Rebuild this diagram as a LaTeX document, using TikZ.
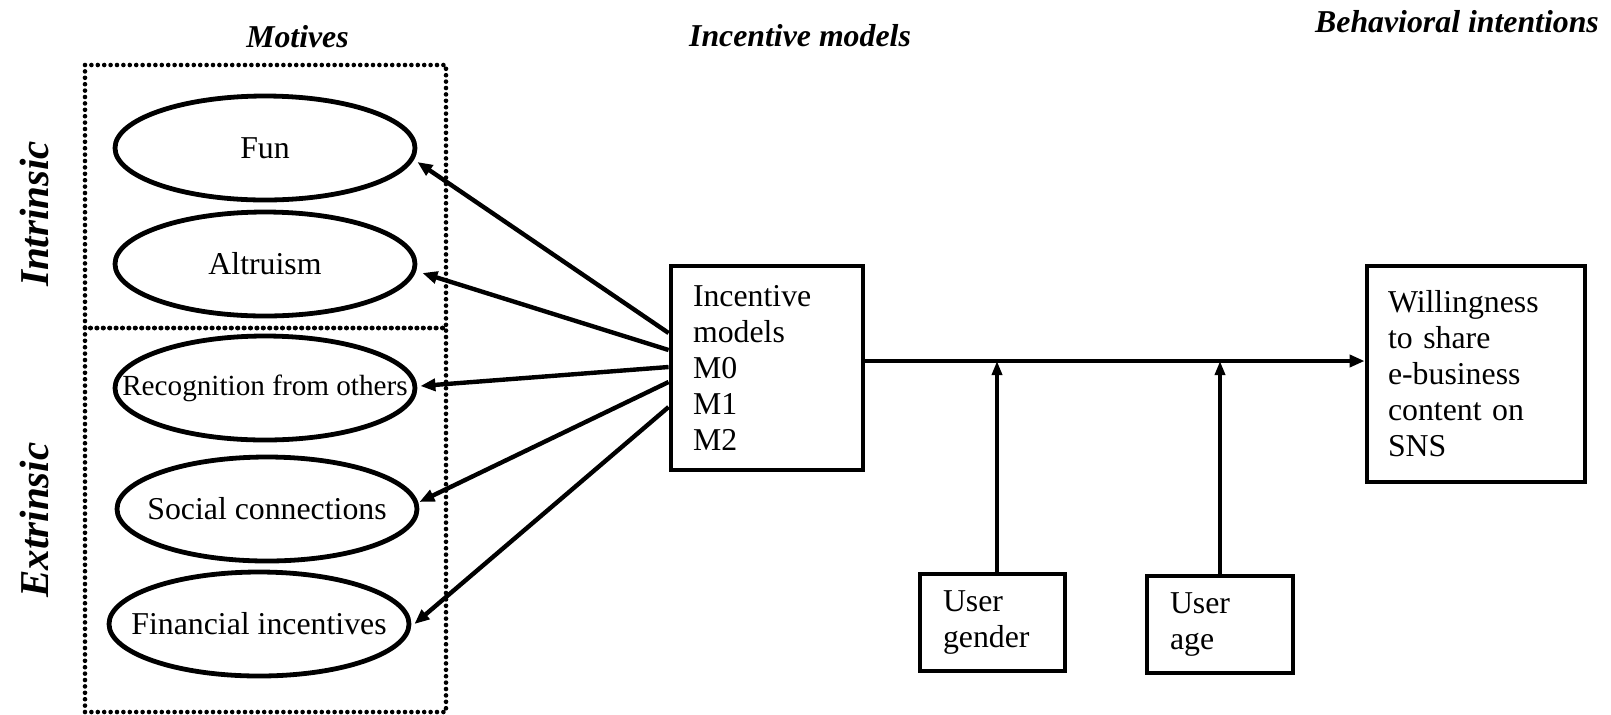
\documentclass[tikz,border=0pt]{standalone}
\usepackage{fontspec}
\setmainfont{Liberation Serif}
\usepackage{xcolor}
\usepackage{tikz}
\usetikzlibrary{shapes.geometric, arrows.meta}

\newcommand{\boxfont}{\fontsize{15.9}{18}\selectfont}
\newcommand{\headfont}{\fontsize{15.9}{18}\selectfont\bfseries\itshape}
\newcommand{\sidefont}{\fontsize{20.5}{24}\selectfont\bfseries\itshape}

\tikzset{
  motive/.style={draw, ellipse, line width=2.4pt, minimum width=150pt, minimum height=52pt, inner xsep=-20pt, inner ysep=0pt, font=\boxfont},
  varbox/.style={draw, rectangle, line width=2.4pt, align=left, inner ysep=0pt, font=\boxfont},
  heading/.style={anchor=base, font=\headfont, inner sep=0pt},
  sidelabel/.style={rotate=90, font=\sidefont, inner sep=0pt},
  dotbox/.style={line width=2.3pt, dash pattern=on 0pt off 3.2pt, line cap=round},
  toarr/.style={-{Triangle[length=7.5pt, width=6pt]}, line width=2.2pt},
  modarr/.style={-{Triangle[length=7pt, width=5pt]}, line width=1.7pt}
}

\begin{document}
\begin{tikzpicture}[x=0.5pt, y=-0.5pt, line join=miter]
\useasboundingbox (0,0) rectangle (1611,714);

%% column headings
\node[heading] (motivesttl) at (297.5,47) {Motives};
\node[heading] (incentttl) at (800,46) {Incentive models};
\node[heading] (behavttl) at (1457,32) {Behavioral intentions};

%% dotted groups -- intrinsic on top, extrinsic below
\draw[dotbox] (85,65) rectangle (446,328);
\draw[dotbox] (85,328) rectangle (446,712);
\node[sidelabel] (intrinsic) at (34,214) {Intrinsic};
\node[sidelabel] (extrinsic) at (34,520) {Extrinsic};

%% motives
\node[motive] (fun) at (265,148) {Fun};
\node[motive] (altru) at (265,264) {Altruism};
\node[motive] (recog) at (265,388) {\fontsize{14.6}{18}\selectfont Recognition from others};
\node[motive] (social) at (267,509) {Social connections};
\node[motive] (financ) at (259,624) {Financial incentives};

%% boxes
\node[varbox, minimum width=96pt, minimum height=102pt, text width=74pt, inner xsep=11pt] (incent) at (767,368) {Incentive\\models\\M0\\M1\\M2};
\node[varbox, minimum width=109pt, minimum height=108pt, text width=88pt, inner xsep=10.5pt] (will) at (1476,374) {Willingness\\to share\\e-business\\content on\\SNS};
\node[varbox, minimum width=72.5pt, minimum height=48.5pt, text width=49.5pt, inner xsep=11.5pt] (gender) at (992.5,622.5) {User\\gender};
\node[varbox, minimum width=73pt, minimum height=48.5pt, text width=50pt, inner xsep=11.5pt] (age) at (1220,624.5) {User\\age};

%% incentive models to motives
\draw[toarr] ([yshift=17.5pt]incent.west) -- ([yshift=-7pt]fun.east);
\draw[toarr] ([yshift=9pt]incent.west) -- ([xshift=2.5pt, yshift=-4.5pt]altru.east);
\draw[toarr] ([yshift=0.5pt]incent.west) -- ([xshift=1.5pt, yshift=1pt]recog.east);
\draw[toarr] ([yshift=-7pt]incent.west) -- ([yshift=3.5pt]social.east);
\draw[toarr] ([yshift=-19.5pt]incent.west) -- ([xshift=1.5pt]financ.east);

%% main path and moderators
\coordinate (mainrow) at (0,361);
\draw[toarr] (incent.east |- mainrow) -- (will.west |- mainrow);
\draw[modarr] ([xshift=2.25pt]gender.north) -- ([xshift=2.25pt]gender.north |- mainrow);
\draw[modarr] (age.north) -- (age.north |- mainrow);

\end{tikzpicture}
\end{document}
